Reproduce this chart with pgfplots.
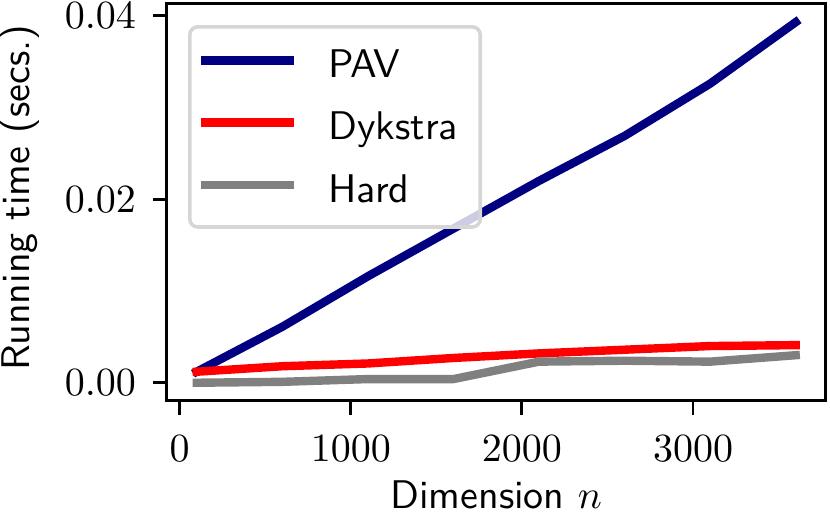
\documentclass[border=0pt]{standalone}
\usepackage{pgfplots}
\pgfplotsset{compat=1.18}
\definecolor{pavblue}{HTML}{000080}
\definecolor{dykred}{HTML}{FF0000}
\definecolor{hardgray}{HTML}{808080}
\definecolor{legedge}{HTML}{D6D6D6}
\begin{document}
\begin{tikzpicture}
\useasboundingbox (-41.7pt,-29.05pt) rectangle (165.8pt,100.2pt);
\begin{axis}[
  at={(0pt,0pt)}, anchor=south west,
  scale only axis, width=164.7pt, height=99.25pt,
  xmin=-75, xmax=3775, ymin=-0.00197, ymax=0.0413,
  xtick={0,1000,2000,3000}, xticklabels={$0$,$1000$,$2000$,$3000$},
  ytick={0,0.02,0.04}, yticklabels={$0.00$,$0.02$,$0.04$},
  scaled ticks=false,
  tick align=outside, xtick pos=bottom, ytick pos=left,
  major tick length=3.5pt,
  every tick/.style={black, line width=0.7pt},
  axis line style={line width=0.7pt},
  xticklabel style={anchor=north, inner sep=0pt, yshift=-5.05pt},
  yticklabel style={anchor=east, inner sep=0pt, xshift=-4pt},
  xlabel={\sffamily Dimension $n$},
  ylabel={\sffamily Running time (secs.)},
  xlabel style={at={(axis description cs:0.5,-0.271)}, anchor=base, inner sep=0pt},
  ylabel style={at={(axis description cs:-0.2077,0.512)}, anchor=base, inner sep=0pt},
  legend style={
    at={(axis description cs:0.0322,0.9466)}, anchor=north west,
    draw=legedge, line width=0.9pt, rounded corners=2pt,
    fill=white, fill opacity=0.8, draw opacity=1, text opacity=1,
    inner xsep=1.7pt, inner ysep=5.6pt,
    row sep=7.8pt, column sep=7.6pt,
    font=\sffamily,
    nodes={inner sep=0pt, text height=7.1pt, text depth=0.65pt},
  },
  legend cell align=left,
  legend image code/.code={\draw[#1, line cap=butt] (0pt,1.1pt) -- (23.3pt,1.1pt);},
]
\addplot[pavblue, line width=2.1pt, line cap=rect, line join=round, mark=none] coordinates {
(100,0.0012) (600,0.0061) (1100,0.0116) (1600,0.0168) (2100,0.0220) (2600,0.0269) (3100,0.0326) (3600,0.0393)
};
\addlegendentry{PAV}
\addplot[dykred, line width=2.1pt, line cap=rect, line join=round, mark=none] coordinates {
(100,0.0012) (600,0.0018) (1100,0.0021) (1600,0.0027) (2100,0.0032) (2600,0.0036) (3100,0.0040) (3600,0.0041)
};
\addlegendentry{\makebox[36.2pt][l]{Dykstra}}
\addplot[hardgray, line width=2.1pt, line cap=rect, line join=round, mark=none] coordinates {
(100,0.0000) (600,0.0001) (1100,0.0004) (1600,0.0004) (2100,0.0023) (2600,0.0024) (3100,0.0023) (3600,0.0030)
};
\addlegendentry{Hard}
\end{axis}
\end{tikzpicture}
\end{document}
